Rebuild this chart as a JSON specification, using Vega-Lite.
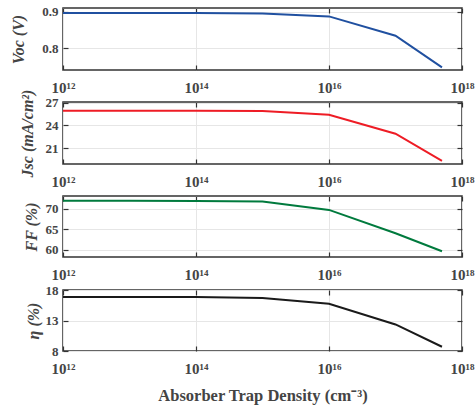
{
  "$schema": "https://vega.github.io/schema/vega-lite/v6.json",
  "padding": {"left": 10, "top": 4, "right": 0, "bottom": 3},
  "data": {"values": [
    {"n": 1e12, "voc": 0.896, "jsc": 25.95, "ff": 71.95, "eta": 16.85},
    {"n": 1e13, "voc": 0.896, "jsc": 25.95, "ff": 71.95, "eta": 16.85},
    {"n": 1e14, "voc": 0.896, "jsc": 25.95, "ff": 71.9, "eta": 16.85},
    {"n": 1e15, "voc": 0.895, "jsc": 25.9, "ff": 71.75, "eta": 16.7},
    {"n": 1e16, "voc": 0.887, "jsc": 25.4, "ff": 69.7, "eta": 15.75},
    {"n": 1e17, "voc": 0.834, "jsc": 22.9, "ff": 64.0, "eta": 12.35},
    {"n": 5e17, "voc": 0.747, "jsc": 19.3, "ff": 59.6, "eta": 8.7}
  ]},
  "vconcat": [
    {
      "width": 399, "height": 62,
      "layer": [
        {"mark": {"type": "line", "color": "#2050A0", "strokeWidth": 2},
         "encoding": {
           "x": {"field": "n", "type": "quantitative", "scale": {"type": "log", "domain": [1e12, 1e18]},
                 "axis": {"orient": "bottom", "values": [1e12, 1e14, 1e16, 1e18], "title": null,
                          "labelExpr": "datum.value < 1e13 ? '10¹²' : datum.value < 1e15 ? '10¹⁴' : datum.value < 1e17 ? '10¹⁶' : '10¹⁸'"}},
           "y": {"field": "voc", "type": "quantitative", "scale": {"domain": [0.74, 0.91], "nice": false, "zero": false},
                 "axis": {"orient": "left", "values": [0.8, 0.9], "format": ".1f", "title": "Voc (V)", "titlePadding": 15}}
         }},
        {"mark": {"type": "line", "opacity": 0},
         "encoding": {
           "x": {"field": "n", "type": "quantitative", "axis": {"orient": "top", "values": [1e12, 1e14, 1e16, 1e18], "labels": false, "grid": false, "title": null}},
           "y": {"field": "voc", "type": "quantitative", "axis": {"orient": "right", "values": [0.8, 0.9], "labels": false, "grid": false, "title": null}}
         }}
      ],
      "resolve": {"axis": {"x": "independent", "y": "independent"}}
    },
    {
      "width": 399, "height": 62,
      "layer": [
        {"mark": {"type": "line", "color": "#EE1C25", "strokeWidth": 2},
         "encoding": {
           "x": {"field": "n", "type": "quantitative", "scale": {"type": "log", "domain": [1e12, 1e18]},
                 "axis": {"orient": "bottom", "values": [1e12, 1e14, 1e16, 1e18], "title": null,
                          "labelExpr": "datum.value < 1e13 ? '10¹²' : datum.value < 1e15 ? '10¹⁴' : datum.value < 1e17 ? '10¹⁶' : '10¹⁸'"}},
           "y": {"field": "jsc", "type": "quantitative", "scale": {"domain": [18.9, 27.1], "nice": false, "zero": false},
                 "axis": {"orient": "left", "values": [21, 24, 27], "title": "Jsc (mA/cm²)", "titlePadding": 10}}
         }},
        {"mark": {"type": "line", "opacity": 0},
         "encoding": {
           "x": {"field": "n", "type": "quantitative", "axis": {"orient": "top", "values": [1e12, 1e14, 1e16, 1e18], "labels": false, "grid": false, "title": null}},
           "y": {"field": "jsc", "type": "quantitative", "axis": {"orient": "right", "values": [21, 24, 27], "labels": false, "grid": false, "title": null}}
         }}
      ],
      "resolve": {"axis": {"x": "independent", "y": "independent"}}
    },
    {
      "width": 399, "height": 61,
      "layer": [
        {"mark": {"type": "line", "color": "#007A3D", "strokeWidth": 2},
         "encoding": {
           "x": {"field": "n", "type": "quantitative", "scale": {"type": "log", "domain": [1e12, 1e18]},
                 "axis": {"orient": "bottom", "values": [1e12, 1e14, 1e16, 1e18], "title": null,
                          "labelExpr": "datum.value < 1e13 ? '10¹²' : datum.value < 1e15 ? '10¹⁴' : datum.value < 1e17 ? '10¹⁶' : '10¹⁸'"}},
           "y": {"field": "ff", "type": "quantitative", "scale": {"domain": [58.2, 73.1], "nice": false, "zero": false},
                 "axis": {"orient": "left", "values": [60, 65, 70], "title": "FF (%)", "titlePadding": 6}}
         }},
        {"mark": {"type": "line", "opacity": 0},
         "encoding": {
           "x": {"field": "n", "type": "quantitative", "axis": {"orient": "top", "values": [1e12, 1e14, 1e16, 1e18], "labels": false, "grid": false, "title": null}},
           "y": {"field": "ff", "type": "quantitative", "axis": {"orient": "right", "values": [60, 65, 70], "labels": false, "grid": false, "title": null}}
         }}
      ],
      "resolve": {"axis": {"x": "independent", "y": "independent"}}
    },
    {
      "width": 399, "height": 61,
      "layer": [
        {"mark": {"type": "line", "color": "#1A1A1A", "strokeWidth": 2},
         "encoding": {
           "x": {"field": "n", "type": "quantitative", "scale": {"type": "log", "domain": [1e12, 1e18]},
                 "axis": {"orient": "bottom", "values": [1e12, 1e14, 1e16, 1e18], "title": "Absorber Trap Density (cm⁻³)",
                          "titleFontStyle": "normal", "titleFontSize": 16.5, "titlePadding": 11,
                          "labelExpr": "datum.value < 1e13 ? '10¹²' : datum.value < 1e15 ? '10¹⁴' : datum.value < 1e17 ? '10¹⁶' : '10¹⁸'"}},
           "y": {"field": "eta", "type": "quantitative", "scale": {"domain": [8, 18], "nice": false, "zero": false},
                 "axis": {"orient": "left", "values": [8, 13, 18], "title": "η (%)", "titlePadding": 4}}
         }},
        {"mark": {"type": "line", "opacity": 0},
         "encoding": {
           "x": {"field": "n", "type": "quantitative", "axis": {"orient": "top", "values": [1e12, 1e14, 1e16, 1e18], "labels": false, "grid": false, "title": null}},
           "y": {"field": "eta", "type": "quantitative", "axis": {"orient": "right", "values": [8, 13, 18], "labels": false, "grid": false, "title": null}}
         }}
      ],
      "resolve": {"axis": {"x": "independent", "y": "independent"}}
    }
  ],
  "spacing": 32,
  "bounds": "flush",
  "align": "all",
  "config": {
    "font": "Liberation Serif",
    "view": {"stroke": "#333333", "strokeWidth": 1.5},
    "axis": {
      "labelFont": "Liberation Serif", "labelFontWeight": "bold", "labelColor": "#444444",
      "titleFont": "Liberation Serif", "titleFontWeight": "bold", "titleFontStyle": "italic", "titleFontSize": 16, "titleColor": "#444444",
      "gridColor": "#e6e6e6", "domain": false, "tickColor": "#333333", "tickSize": -5, "tickWidth": 1.2,
      "labelFlush": false, "labelOverlap": false, "labelBound": false
    },
    "axisX": {"labelFontSize": 15, "labelPadding": 15},
    "axisY": {"labelFontSize": 13, "labelPadding": 10}
  }
}
